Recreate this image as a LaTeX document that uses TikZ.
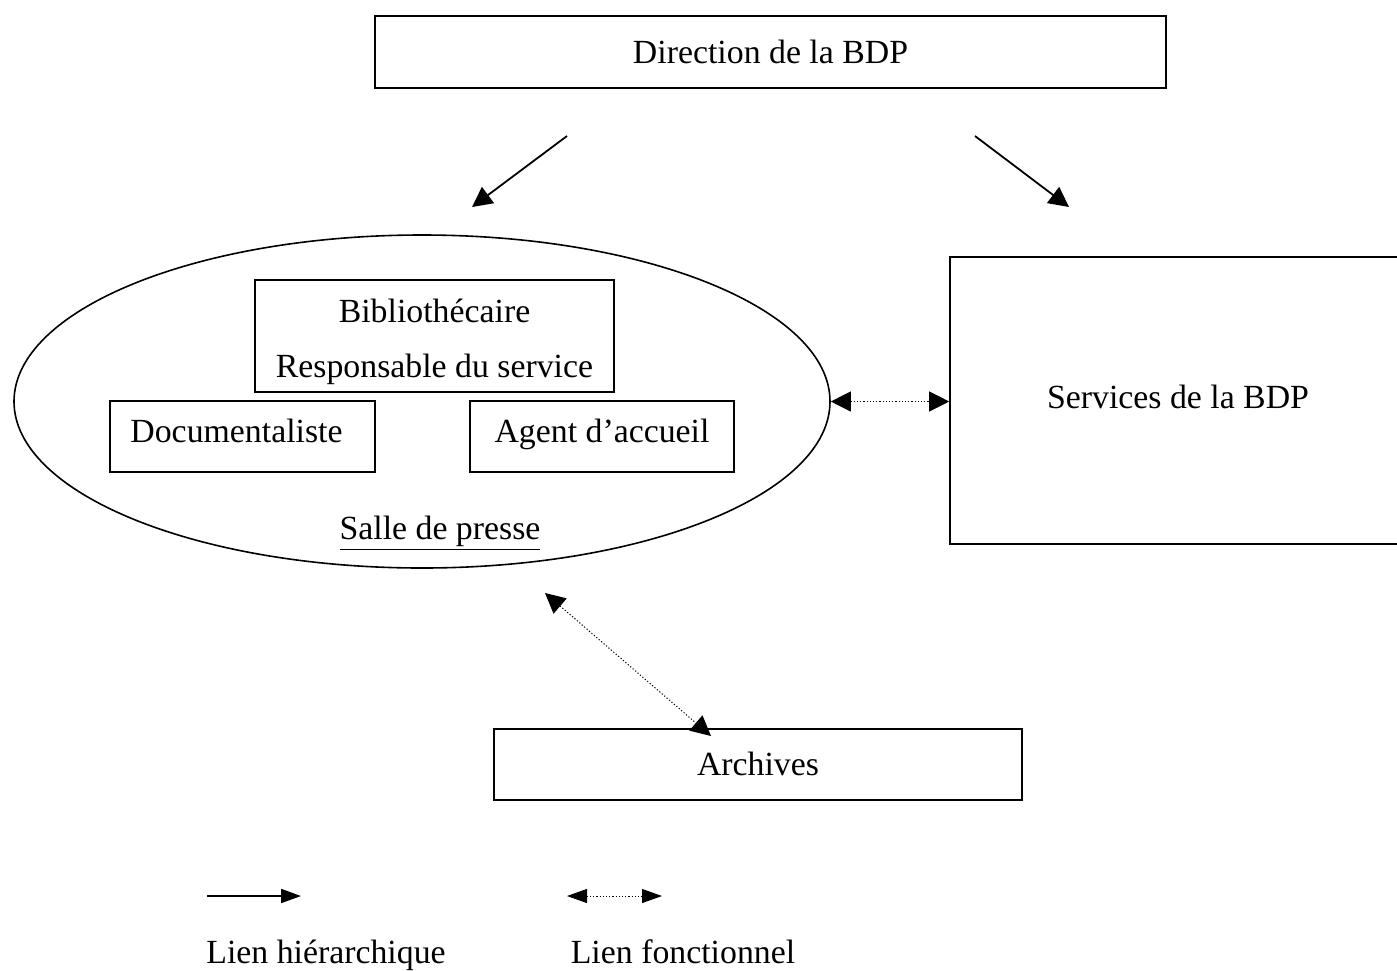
\documentclass[tikz,border=0pt]{standalone}
\usepackage{fontspec}
\setmainfont{Liberation Serif}
\usetikzlibrary{arrows.meta,shapes.geometric}
\begin{document}
\begin{tikzpicture}[x=0.5pt,y=-0.5pt,
  every node/.style={font=\fontsize{16.9}{20}\selectfont},
  boxnode/.style={draw,line width=0.8pt,inner sep=0pt,rectangle},
  capsc/.style={text height=11.2pt,text depth=0pt},
  hier/.style={line width=0.9pt,-{Triangle[length=10pt,width=10pt]}},
  func/.style={line width=0.5pt,dash pattern=on 0.6pt off 1pt,{Triangle[length=10pt,width=10pt]}-{Triangle[length=10pt,width=10pt]}},
  hierL/.style={line width=0.9pt,-{Triangle[length=10pt,width=7pt]}},
  funcL/.style={line width=0.5pt,dash pattern=on 0.6pt off 1pt,{Triangle[length=10pt,width=7pt]}-{Triangle[length=10pt,width=7pt]}}]
\useasboundingbox (0,0) rectangle (1397,970);
\fill[white] (0,0) rectangle (1397,970);
% Direction
\node[boxnode,capsc,minimum width=395.5pt,minimum height=36pt] (dir) at (770.5,52) {Direction de la BDP};
\coordinate (d1) at (567,136);
\coordinate (d1e) at (472,207);
\coordinate (d2) at (975,136);
\coordinate (d2e) at (1069,207);
\draw[hier] (d1) -- (d1e);
\draw[hier] (d2) -- (d2e);
% Ellipse
\node[draw,ellipse,line width=0.8pt,minimum width=408pt,minimum height=166.5pt,inner sep=0pt] (ell) at (422,401.5) {};
\node[boxnode,minimum width=179.5pt,minimum height=56pt] (bib) at (434.5,336) {};
\node[align=center,font=\fontsize{16.9}{27.5}\selectfont] (bibt) at (434.5,342) {Biblioth\'ecaire\\Responsable du service};
\node[boxnode,capsc,minimum width=132.5pt,minimum height=35.5pt] (doc) at (242.5,436.5) {\hspace*{-6pt}\raisebox{2.8pt}{Documentaliste}};
\node[boxnode,capsc,minimum width=132pt,minimum height=35.5pt] (agent) at (602,436.5) {\raisebox{2.8pt}{Agent d’accueil}};
\node[capsc] (salle) at (440,528) {\underline{Salle de presse}};
% Services
\node[boxnode,minimum width=225pt,minimum height=143.5pt] (serv) at (1175,400.5) {};
\node[capsc] (servt) at (1178,397) {Services de la BDP};
\draw[func] (ell.east) -- (ell.east -| serv.west);
% Archives
\node[boxnode,capsc,minimum width=264pt,minimum height=35.5pt] (arch) at (758,764.5) {Archives};
\coordinate (a1) at (545,593);
\coordinate (a2) at (711,736);
\draw[func] (a1) -- (a2);
% Legend
\coordinate (l1) at (207,896);
\coordinate (l1e) at (301,896);
\draw[hierL] (l1) -- (l1e);
\coordinate (l2) at (567,896);
\coordinate (l2e) at (662,896);
\draw[funcL] (l2) -- (l2e);
\node[anchor=base] (lh) at (326,963) {Lien hi\'erarchique};
\node[anchor=base] (lf) at (683,963) {Lien fonctionnel};
\end{tikzpicture}
\end{document}
